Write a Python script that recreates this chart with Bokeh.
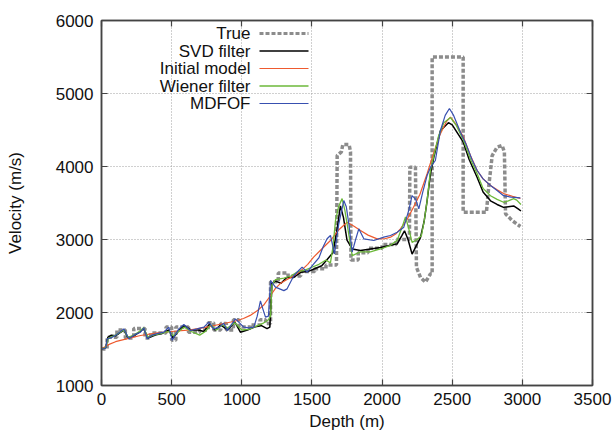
from bokeh.plotting import figure
from bokeh.models import LinearAxis, Label, Arrow, Range1d, FixedTicker, CustomLabelingPolicy
from bokeh.embed import file_html
from bokeh.resources import INLINE

# ---------------- data ----------------
true_depth = [0, 40, 40, 110, 110, 170, 170, 230, 230, 310, 310, 350, 350, 460, 460, 500, 500, 530, 530, 620,
              620, 700, 700, 760, 760, 800, 800, 850, 850, 890, 890, 940, 940, 980, 980, 1060, 1060, 1130, 1130, 1170,
              1170, 1205, 1205, 1260, 1260, 1330, 1330, 1420, 1420, 1520, 1520, 1600, 1600, 1675, 1680, 1710, 1720,
              1765, 1775, 1778, 1830, 1830, 1900, 1900, 2000, 2000, 2100, 2100, 2195, 2198, 2238, 2245, 2274, 2309,
              2345, 2357, 2357, 2578, 2578, 2744, 2760, 2785, 2820, 2856, 2872, 2880, 2927, 2986]
true_vel = [1500, 1500, 1660, 1660, 1760, 1760, 1650, 1650, 1780, 1780, 1650, 1650, 1720, 1720, 1800, 1800, 1620, 1620, 1800, 1800,
            1730, 1730, 1760, 1760, 1860, 1860, 1760, 1760, 1850, 1850, 1760, 1760, 1900, 1900, 1800, 1800, 1830, 1830, 1900, 1900,
            1850, 1850, 2420, 2420, 2540, 2540, 2500, 2500, 2560, 2560, 2600, 2600, 2650, 2650, 4150, 4200, 4300,
            4300, 4200, 2720, 2720, 2820, 2820, 2880, 2880, 2930, 2930, 3000, 3000, 3990, 3990, 2620, 2480, 2415,
            2530, 2530, 5500, 5500, 3374, 3374, 3720, 4150, 4265, 4288, 4196, 3352, 3260, 3178]

svd_depth = [0, 30, 45, 70, 100, 130, 160, 190, 230, 270, 300, 330, 370, 400, 440, 480, 510, 550, 590, 640,
             690, 730, 770, 810, 850, 900, 950, 990, 1040, 1090, 1140, 1180, 1200, 1215, 1240, 1280, 1320, 1370,
             1420, 1470, 1520, 1570, 1610, 1650, 1680, 1703, 1725, 1750, 1787, 1846, 1917, 1990, 2060, 2108, 2140,
             2160, 2185, 2214, 2240, 2274, 2300, 2321, 2345, 2369, 2416, 2473, 2500, 2540, 2580, 2620, 2678, 2720,
             2773, 2820, 2866, 2900, 2938, 2970, 2990]
svd_vel = [1500, 1520, 1660, 1690, 1680, 1720, 1760, 1650, 1680, 1730, 1780, 1650, 1680, 1700, 1720, 1760, 1650, 1750, 1820, 1760,
           1760, 1740, 1840, 1760, 1830, 1760, 1870, 1730, 1760, 1800, 1820, 1780, 1800, 2400, 2430, 2400, 2480, 2480,
           2550, 2560, 2600, 2640, 2730, 2820, 3150, 3460, 3300, 2990, 2870, 2850, 2870, 2890, 2920, 2940, 3050,
           3120, 3000, 2800, 2900, 3030, 3250, 3530, 3900, 4130, 4490, 4600, 4570, 4450, 4330, 4100, 3850, 3650,
           3530, 3480, 3440, 3450, 3460, 3420, 3390]

init_depth = [0, 50, 100, 200, 278, 400, 500, 634, 750, 870, 950, 1012, 1060, 1112, 1160, 1205, 1240, 1276, 1320,
              1369, 1420, 1470, 1512, 1570, 1632, 1690, 1751, 1800, 1846, 1900, 1965, 2020, 2060, 2100, 2131, 2180,
              2224, 2270, 2321, 2370, 2416, 2460, 2488, 2530, 2580, 2630, 2678, 2720, 2773, 2820, 2866, 2930, 2986]
init_vel = [1500, 1560, 1600, 1650, 1685, 1720, 1740, 1763, 1800, 1849, 1880, 1918, 1960, 2027, 2110, 2233, 2330, 2400, 2450,
            2500, 2570, 2660, 2758, 2870, 2986, 3130, 3237, 3180, 3123, 3060, 3009, 3010, 3032, 3080, 3146, 3280,
            3443, 3620, 3900, 4200, 4450, 4620, 4676, 4570, 4402, 4150, 3945, 3830, 3740, 3680, 3630, 3590, 3562]

wien_depth = [0, 30, 50, 100, 160, 190, 230, 270, 300, 330, 370, 420, 480, 510, 550, 590, 640, 700, 740, 780,
              820, 860, 900, 950, 1000, 1050, 1100, 1150, 1190, 1205, 1215, 1240, 1300, 1350, 1400, 1450, 1500, 1550,
              1600, 1632, 1650, 1668, 1690, 1715, 1735, 1751, 1787, 1846, 1917, 1989, 2060, 2108, 2143, 2167, 2190,
              2214, 2250, 2280, 2300, 2321, 2345, 2400, 2440, 2488, 2530, 2580, 2630, 2678, 2720, 2773, 2820, 2866,
              2900, 2938, 2960, 2990]
wien_vel = [1500, 1520, 1650, 1690, 1760, 1660, 1690, 1740, 1790, 1660, 1690, 1710, 1740, 1680, 1740, 1800, 1740, 1690, 1740, 1830,
            1760, 1830, 1790, 1860, 1760, 1770, 1810, 1850, 1900, 1950, 2380, 2450, 2470, 2500, 2560, 2580, 2620, 2660,
            2720, 2680, 2900, 3260, 3450, 3560, 3400, 3210, 2780, 2830, 2830, 2870, 2920, 2990, 3170, 3310, 3150,
            2960, 3000, 3050, 3250, 3530, 3950, 4400, 4600, 4670, 4560, 4360, 4100, 3900, 3700, 3600, 3550, 3510,
            3530, 3560, 3540, 3480]

mdfof_depth = [0, 30, 41, 76, 110, 159, 195, 240, 278, 302, 326, 360, 397, 444, 480, 504, 551, 587, 634, 682,
               730, 765, 800, 840, 872, 896, 955, 1014, 1050, 1086, 1110, 1133, 1150, 1169, 1190, 1205, 1240, 1300,
               1323, 1370, 1406, 1430, 1466, 1510, 1550, 1580, 1608, 1632, 1661, 1690, 1727, 1745, 1763, 1787, 1810,
               1834, 1870, 1941, 2012, 2060, 2108, 2155, 2190, 2214, 2240, 2262, 2290, 2321, 2345, 2380, 2416, 2450,
               2480, 2510, 2559, 2600, 2640, 2678, 2720, 2773, 2820, 2866, 2920, 2986]
mdfof_vel = [1500, 1510, 1640, 1660, 1700, 1776, 1640, 1700, 1730, 1790, 1640, 1690, 1710, 1730, 1800, 1620, 1776, 1836, 1753, 1776,
             1800, 1868, 1776, 1800, 1854, 1753, 1913, 1800, 1790, 1800, 1950, 2160, 2050, 1936, 1950, 2438, 2347, 2300,
             2324, 2500, 2575, 2621, 2553, 2660, 2750, 2900, 3010, 3055, 2804, 3200, 3534, 3450, 3215, 2826, 2990,
             3146, 3009, 2986, 3032, 3055, 3100, 3169, 3400, 3600, 3550, 3420, 3650, 3877, 3990, 4082, 4493, 4700,
             4795, 4700, 4470, 4300, 4100, 3945, 3830, 3740, 3670, 3600, 3580, 3570]

legend_labels = ["True", "SVD filter", "Initial model", "Wiener filter", "MDFOF"]
x_ticks = [0, 500, 1000, 1500, 2000, 2500, 3000, 3500]
y_ticks = [1000, 2000, 3000, 4000, 5000, 6000]

# ---------------- styling ----------------
FONT = "Liberation Sans"
FS = "17px"
AX = "#444444"
colors = ["#8c8c8c", "#000000", "#ee5a2f", "#6cb83a", "#3850b0"]
widths = [3.5, 1.5, 1.2, 1.3, 1.2]
dashes = ["4 2", "solid", "solid", "solid", "solid"]

p = figure(width=615, height=439, frame_width=491, frame_height=365,
           min_border_left=101, min_border_right=23, min_border_top=20, min_border_bottom=54,
           x_range=Range1d(0, 3500), y_range=Range1d(1000, 6000),
           output_backend="svg", toolbar_location=None)
p.background_fill_color = "white"
p.border_fill_color = "white"
p.outline_line_color = AX
p.outline_line_width = 1.5

p.xaxis.axis_label = "Depth (m)"
p.yaxis.axis_label = "Velocity (m/s)"
for ax in [p.xaxis[0], p.yaxis[0]]:
    ax.axis_label_text_font = FONT
    ax.axis_label_text_font_size = FS
    ax.axis_label_text_font_style = "normal"
    ax.axis_label_text_color = "#111111"
    ax.major_label_text_font = FONT
    ax.major_label_text_font_size = FS
    ax.major_label_text_color = "#111111"
    ax.axis_line_color = AX
    ax.axis_line_width = 1.5
    ax.major_tick_line_color = AX
    ax.major_tick_line_width = 1.2
    ax.major_tick_in = 6
    ax.major_tick_out = 0
    ax.minor_tick_line_color = None
p.xaxis.ticker = FixedTicker(ticks=x_ticks)
p.yaxis.ticker = FixedTicker(ticks=y_ticks)
p.xaxis.major_label_standoff = 7
p.yaxis.major_label_standoff = 8
p.xaxis.axis_label_standoff = 4
p.yaxis.axis_label_standoff = 28

# mirror axes (top / right): ticks only, no labels drawn
no_labels = CustomLabelingPolicy(code="return []")
top = LinearAxis(ticker=FixedTicker(ticks=x_ticks), major_label_policy=no_labels,
                 major_label_text_font_size="1px",
                 axis_line_color=AX, axis_line_width=1.5, major_tick_line_color=AX, major_tick_line_width=1.2,
                 major_tick_in=6, major_tick_out=0, minor_tick_line_color=None, major_label_standoff=0)
right = LinearAxis(ticker=FixedTicker(ticks=y_ticks), major_label_policy=CustomLabelingPolicy(code="return []"),
                   major_label_text_font_size="1px",
                   axis_line_color=AX, axis_line_width=1.5, major_tick_line_color=AX, major_tick_line_width=1.2,
                   major_tick_in=6, major_tick_out=0, minor_tick_line_color=None, major_label_standoff=0)
p.add_layout(top, "above")
p.add_layout(right, "right")

p.xgrid.ticker = FixedTicker(ticks=x_ticks)
p.ygrid.ticker = FixedTicker(ticks=y_ticks)
for g in [p.xgrid[0], p.ygrid[0]]:
    g.grid_line_color = "#a0a0a0"
    g.grid_line_dash = "1 2"
    g.grid_line_width = 1

series = [(true_depth, true_vel), (svd_depth, svd_vel), (init_depth, init_vel),
          (wien_depth, wien_vel), (mdfof_depth, mdfof_vel)]
for (xs, ys), c, w, d in zip(series, colors, widths, dashes):
    p.line(xs, ys, line_color=c, line_width=w, line_dash=d)

# legend: label right-aligned, sample line to its right (screen units inside the frame)
for i, (lab, c, w, d) in enumerate(zip(legend_labels, colors, widths, dashes)):
    sy = 352 - i * 17.5
    p.add_layout(Label(x=149, y=sy, x_units="screen", y_units="screen", text=lab,
                       text_align="right", text_baseline="middle",
                       text_font=FONT, text_font_size=FS, text_color="#111111"))
    p.add_layout(Arrow(end=None, x_start=158, y_start=sy, x_end=207, y_end=sy,
                       start_units="screen", end_units="screen",
                       line_color=c, line_width=w if i else 3, line_dash=d))

open("out.html", "w").write(file_html(p, INLINE))
